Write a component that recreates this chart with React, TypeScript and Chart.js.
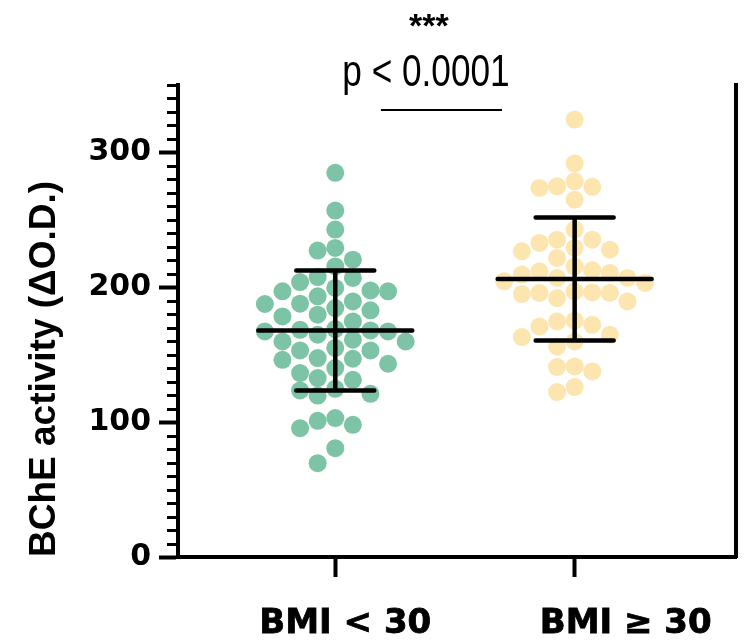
import { useEffect, useRef } from "react";
import { Chart, registerables } from "chart.js";

Chart.register(...registerables);

// ---------------- data ----------------
const categories = ["BMI < 30", "BMI ≥ 30"];

const bmiUnder30 = [
  284.9, 256.9, 242.8, 229.2, 227.2, 220.5, 215.5, 207.6, 206.9, 203.9,
  199.5, 197.7, 197, 197, 193.3, 189.5, 187.8, 187.6, 184.6, 182.9,
  179.7, 178.4, 174.7, 169, 168.5, 168, 167.3, 167.3, 164.8, 161.1,
  159.8, 159.8, 155, 153.2, 153.2, 147.5, 147, 146.2, 143.3, 140.1,
  136.4, 132.7, 131.4, 124.7, 123.5, 121, 119.7, 103, 101, 98,
  95.5, 80.7, 69.6,
];

const bmiOver30 = [
  324.4, 291.8, 278.6, 274.9, 274.5, 273.7, 265, 242.8, 235.3, 235.3,
  232.9, 229.2, 227.9, 226.7, 221.8, 215.5, 212.6, 211.8, 210.6, 209.4,
  206.9, 206.9, 204.4, 203.2, 197, 196.2, 195.8, 195.8, 195, 192,
  189.5, 175.2, 174.7, 172.2, 171, 164.8, 163.1, 159.8, 156.1, 141.3,
  140.8, 137.6, 126, 122.3,
];

const groupMeans = [168, 206.2];
const groupSDs = [44.5, 45.6];

const yMajorTicks = [0, 100, 200, 300];
const yMax = 350;
const yMinorStep = 10;

const yTitle = "BChE activity (ΔO.D.)";
const pText = "p < 0.0001";
const starsText = "***";

const groupColors = ["rgba(102,186,150,0.85)", "rgba(253,224,161,0.85)"];

// ---------------- helpers ----------------
function swarm(chart: any, values: number[], center: number) {
  const xs = chart.scales.x;
  const ys = chart.scales.y;
  const cx = xs.getPixelForValue(center);
  const slot = 17.6;
  const minGap = 17;
  const order = values.map((_, i) => i).sort((a, b) => values[b] - values[a]);
  const placed: { k: number; py: number }[] = [];
  const out: { x: number; y: number }[] = new Array(values.length);
  const cands = [0, -1, 1, -2, 2, -3, 3, -4, 4, -5, 5, -6, 6];
  for (const i of order) {
    const py = ys.getPixelForValue(values[i]);
    let chosen = cands[cands.length - 1];
    for (const k of cands) {
      if (placed.every((p) => p.k !== k || Math.abs(p.py - py) >= minGap)) {
        chosen = k;
        break;
      }
    }
    placed.push({ k: chosen, py });
    out[i] = { x: xs.getValueForPixel(cx + chosen * slot), y: values[i] };
  }
  return out;
}

const minorTicksPlugin = {
  id: "minorTicks",
  afterDraw(chart: any) {
    const ys = chart.scales.y;
    const ctx = chart.ctx;
    const left = chart.chartArea.left;
    ctx.save();
    ctx.strokeStyle = "#000";
    ctx.lineWidth = 3;
    for (let v = 0; v <= yMax; v += yMinorStep) {
      if (yMajorTicks.includes(v)) continue;
      const py = Math.round(ys.getPixelForValue(v)) + 0.5;
      ctx.beginPath();
      ctx.moveTo(left - 11, py);
      ctx.lineTo(left, py);
      ctx.stroke();
    }
    ctx.restore();
  },
};

const errorBarPlugin = {
  id: "errorBars",
  afterDatasetsDraw(chart: any) {
    const xs = chart.scales.x;
    const ys = chart.scales.y;
    const ctx = chart.ctx;
    ctx.save();
    ctx.strokeStyle = "#000";
    ctx.lineWidth = 4.5;
    ctx.lineCap = "round";
    groupMeans.forEach((m, i) => {
      const cx = xs.getPixelForValue(i + 1);
      const my = ys.getPixelForValue(m);
      const uy = ys.getPixelForValue(m + groupSDs[i]);
      const ly = ys.getPixelForValue(m - groupSDs[i]);
      ctx.beginPath();
      ctx.moveTo(cx - 77, my);
      ctx.lineTo(cx + 77, my);
      ctx.moveTo(cx, uy);
      ctx.lineTo(cx, ly);
      ctx.moveTo(cx - 39, uy);
      ctx.lineTo(cx + 39, uy);
      ctx.moveTo(cx - 39, ly);
      ctx.lineTo(cx + 39, ly);
      ctx.stroke();
    });
    ctx.restore();
  },
};

const labelsPlugin = {
  id: "labels",
  afterDraw(chart: any) {
    const xs = chart.scales.x;
    const ctx = chart.ctx;
    const shifts = [10, 51];
    ctx.save();
    ctx.fillStyle = "#000";
    ctx.strokeStyle = "#000";
    ctx.lineWidth = 0.8;
    ctx.font = "bold 34px 'DejaVu Sans'";
    ctx.textAlign = "center";
    ctx.textBaseline = "alphabetic";
    categories.forEach((c, i) => {
      const x = xs.getPixelForValue(i + 1) + shifts[i];
      ctx.fillText(c, x, 633);
      ctx.strokeText(c, x, 633);
    });

    // significance annotation
    const mid = xs.getPixelForValue(1.5);
    ctx.font = "bold 34px 'Liberation Sans'";
    ctx.fillText(starsText, mid - 26, 37);

    ctx.save();
    ctx.translate(mid - 29, 86);
    ctx.scale(0.8, 1);
    ctx.font = "44px 'Liberation Sans'";
    ctx.fillText(pText, 0, 0);
    ctx.restore();

    ctx.strokeStyle = "#000";
    ctx.lineWidth = 2;
    ctx.beginPath();
    ctx.moveTo(mid - 74, 110);
    ctx.lineTo(mid + 47, 110);
    ctx.stroke();
    ctx.restore();
  },
};

export default function App() {
  const ref = useRef<HTMLCanvasElement>(null);
  useEffect(() => {
    const chart: any = new Chart(ref.current as HTMLCanvasElement, {
      type: "scatter",
      data: {
        datasets: [
          {
            label: categories[0],
            data: bmiUnder30.map((v) => ({ x: 1, y: v })),
            backgroundColor: groupColors[0],
            borderWidth: 0,
            pointRadius: 9,
          },
          {
            label: categories[1],
            data: bmiOver30.map((v) => ({ x: 2, y: v })),
            backgroundColor: groupColors[1],
            borderWidth: 0,
            pointRadius: 9,
          },
        ],
      },
      options: {
        animation: false,
        responsive: true,
        maintainAspectRatio: false,
        layout: { padding: { top: 85, right: 12, left: 0, bottom: 0 } },
        plugins: {
          legend: { display: false },
          tooltip: { enabled: false },
        },
        scales: {
          x: {
            type: "linear",
            min: 0.343,
            max: 2.674,
            afterBuildTicks: (s: any) => {
              s.ticks = [{ value: 1 }, { value: 2 }];
            },
            afterFit: (s: any) => {
              s.height = 87;
            },
            ticks: { callback: () => "" },
            grid: {
              drawOnChartArea: false,
              drawTicks: true,
              tickLength: 20,
              tickWidth: 4,
              tickColor: "#000",
            },
            border: { display: true, color: "#000", width: 4 },
          },
          y: {
            type: "linear",
            min: 0,
            max: yMax,
            afterFit: (s: any) => {
              s.width = 178;
            },
            ticks: {
              stepSize: yMinorStep,
              autoSkip: false,
              padding: 8,
              color: "#000",
              font: { family: "'DejaVu Sans'", weight: "bold", size: 30 },
              callback: (v: any) => (yMajorTicks.includes(Number(v)) ? String(v) : ""),
            },
            grid: {
              drawOnChartArea: false,
              drawTicks: true,
              tickLength: 19,
              tickWidth: 4,
              tickColor: (c: any) =>
                c.tick && yMajorTicks.includes(c.tick.value) ? "#000" : "rgba(0,0,0,0)",
            },
            border: { display: true, color: "#000", width: 4 },
            title: {
              display: true,
              text: yTitle,
              align: "start",
              color: "#000",
              font: { family: "'Liberation Sans'", weight: "bold", size: 37 },
              padding: { top: 23, bottom: 0 },
            },
          },
          y2: {
            type: "linear",
            position: "right",
            display: true,
            afterFit: (s: any) => {
              s.width = 0;
            },
            ticks: { display: false },
            grid: { display: false, drawTicks: false },
            border: { display: true, color: "#000", width: 4 },
          },
        },
      },
      plugins: [minorTicksPlugin, errorBarPlugin, labelsPlugin],
    } as any);

    chart.data.datasets[0].data = swarm(chart, bmiUnder30, 1);
    chart.data.datasets[1].data = swarm(chart, bmiOver30, 2);
    chart.update("none");

    return () => chart.destroy();
  }, []);

  return (
    <div style={{ position: "absolute", left: 0, top: 0, width: 748, height: 644 }}>
      <canvas ref={ref} />
    </div>
  );
}
